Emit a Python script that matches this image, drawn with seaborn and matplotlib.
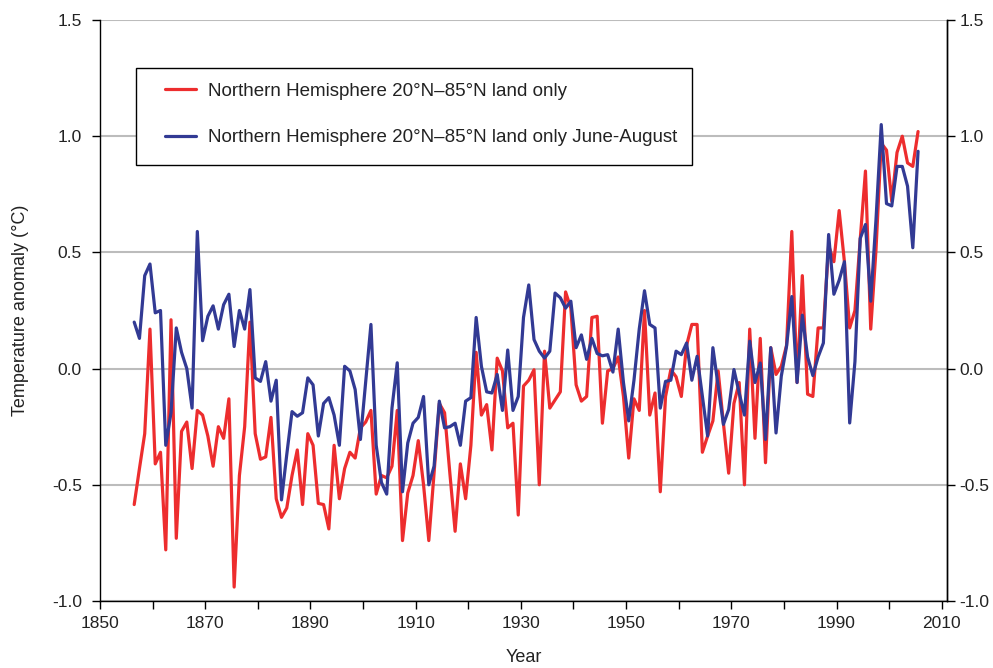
import numpy as np
import pandas as pd
import matplotlib
matplotlib.use("Agg")
import matplotlib.pyplot as plt
import seaborn as sns
from matplotlib.patches import Rectangle

# ---------------- data ----------------
years = list(range(1856, 2006))

nh_land_annual = [
    -0.585, -0.43, -0.28, 0.17, -0.41, -0.36, -0.78, 0.21, -0.73, -0.27,      # 1856-1865
    -0.23, -0.43, -0.18, -0.20, -0.29, -0.42, -0.25, -0.30, -0.13, -0.94,     # 1866-1875
    -0.46, -0.25, 0.20, -0.28, -0.39, -0.38, -0.21, -0.56, -0.64, -0.60,      # 1876-1885
    -0.46, -0.35, -0.585, -0.28, -0.33, -0.58, -0.585, -0.69, -0.33, -0.56,   # 1886-1895
    -0.43, -0.36, -0.385, -0.255, -0.23, -0.18, -0.54, -0.46, -0.47, -0.42,   # 1896-1905
    -0.18, -0.74, -0.535, -0.46, -0.31, -0.50, -0.74, -0.45, -0.15, -0.19,    # 1906-1915
    -0.45, -0.70, -0.41, -0.56, -0.33, 0.07, -0.20, -0.155, -0.35, 0.045,     # 1916-1925
    -0.01, -0.255, -0.235, -0.63, -0.075, -0.05, -0.005, -0.50, 0.075, -0.17, # 1926-1935
    -0.135, -0.10, 0.33, 0.26, -0.07, -0.14, -0.12, 0.22, 0.225, -0.235,      # 1936-1945
    -0.01, 0.00, 0.05, -0.12, -0.385, -0.13, -0.18, 0.25, -0.20, -0.105,      # 1946-1955
    -0.53, -0.12, -0.005, -0.035, -0.12, 0.10, 0.19, 0.19, -0.36, -0.29,      # 1956-1965
    -0.225, -0.01, -0.235, -0.45, -0.15, -0.06, -0.50, 0.17, -0.30, 0.13,     # 1966-1975
    -0.405, 0.09, -0.025, 0.01, 0.10, 0.59, -0.06, 0.40, -0.11, -0.12,        # 1976-1985
    0.175, 0.175, 0.53, 0.46, 0.68, 0.46, 0.175, 0.25, 0.555, 0.85,           # 1986-1995
    0.17, 0.51, 0.97, 0.94, 0.72, 0.93, 1.00, 0.885, 0.87, 1.02,              # 1996-2005
]

nh_land_jja = [
    0.20, 0.13, 0.40, 0.45, 0.24, 0.25, -0.33, -0.19, 0.175, 0.07,            # 1856-1865
    0.00, -0.17, 0.59, 0.12, 0.225, 0.27, 0.17, 0.275, 0.32, 0.095,           # 1866-1875
    0.25, 0.17, 0.34, -0.04, -0.055, 0.03, -0.14, -0.05, -0.565, -0.37,       # 1876-1885
    -0.185, -0.205, -0.19, -0.04, -0.07, -0.29, -0.15, -0.125, -0.20, -0.33,  # 1886-1895
    0.01, -0.01, -0.09, -0.305, -0.06, 0.19, -0.33, -0.49, -0.54, -0.17,      # 1896-1905
    0.025, -0.53, -0.32, -0.235, -0.21, -0.12, -0.50, -0.42, -0.14, -0.255,   # 1906-1915
    -0.25, -0.235, -0.33, -0.14, -0.125, 0.22, 0.01, -0.10, -0.105, -0.025,   # 1916-1925
    -0.18, 0.08, -0.18, -0.12, 0.22, 0.36, 0.125, 0.075, 0.045, 0.075,        # 1926-1935
    0.325, 0.305, 0.26, 0.29, 0.09, 0.145, 0.04, 0.13, 0.065, 0.055,          # 1936-1945
    0.06, -0.015, 0.17, -0.06, -0.225, -0.05, 0.17, 0.335, 0.19, 0.175,       # 1946-1955
    -0.17, -0.055, -0.05, 0.075, 0.06, 0.11, -0.05, 0.053, -0.12, -0.29,      # 1956-1965
    0.09, -0.076, -0.24, -0.176, -0.004, -0.105, -0.20, 0.118, -0.06, 0.024,  # 1966-1975
    -0.305, 0.09, -0.277, -0.033, 0.096, 0.31, -0.06, 0.23, 0.05, -0.03,      # 1976-1985
    0.05, 0.11, 0.577, 0.32, 0.38, 0.46, -0.234, 0.03, 0.56, 0.62,            # 1986-1995
    0.29, 0.64, 1.05, 0.71, 0.70, 0.87, 0.87, 0.785, 0.52, 0.935,             # 1996-2005
]

series_labels = [
    "Northern Hemisphere 20°N–85°N land only",
    "Northern Hemisphere 20°N–85°N land only June-August",
]
series_colors = ["#ED2D2E", "#323A94"]

x_ticks = list(range(1850, 2011, 10))
x_tick_labels = [str(t) if (t - 1850) % 20 == 0 else "" for t in x_ticks]
y_ticks = [-1.0, -0.5, 0.0, 0.5, 1.0, 1.5]
y_tick_labels = ["-1.0", "-0.5", "0.0", "0.5", "1.0", "1.5"]

# ---------------- style ----------------
sns.set_theme(style="white")
plt.rcParams["font.family"] = ["Liberation Sans", "DejaVu Sans"]
plt.rcParams["axes.unicode_minus"] = False

df = pd.DataFrame({
    "year": years + years,
    "anomaly": nh_land_annual + nh_land_jja,
    "series": [series_labels[0]] * len(years) + [series_labels[1]] * len(years),
})
# each year is a category slot; points sit in the middle of their slot
df["pos"] = df["year"] + 0.5

fig = plt.figure(figsize=(9.93, 6.68), dpi=100)
W, H = 993, 668
ax = fig.add_axes([100 / W, 1 - 601 / H, 847 / W, 581 / H])

sns.lineplot(data=df, x="pos", y="anomaly", hue="series", hue_order=series_labels,
             palette=series_colors, linewidth=2.3, estimator=None, legend=False, ax=ax)

ax.set_xlim(1850, 2011)
ax.set_ylim(-1.0, 1.5)
ax.set_xticks(x_ticks)
ax.set_xticklabels(x_tick_labels)
ax.set_yticks(y_ticks)
ax.set_yticklabels(y_tick_labels)

ax.yaxis.grid(True, color="#bcbcbc", linewidth=1.5)
ax.xaxis.grid(False)
ax.set_axisbelow(True)

for side in ["left", "right", "bottom"]:
    ax.spines[side].set_visible(True)
    ax.spines[side].set_color("black")
    ax.spines[side].set_linewidth(1.0)
ax.spines["top"].set_visible(False)

ax.tick_params(axis="both", which="both", direction="out", length=6, width=1,
               color="black", labelsize=12.5, labelcolor="#222222")
ax.tick_params(axis="y", left=True, labelleft=True, right=False, labelright=False, pad=7)
ax.tick_params(axis="x", bottom=True, pad=5)

# right-hand value axis (same scale) with its own, tighter padding
ax2 = ax.twinx()
ax2.set_ylim(ax.get_ylim())
ax2.set_yticks(y_ticks)
ax2.set_yticklabels(y_tick_labels)
ax2.grid(False)
for side in ["left", "top", "bottom"]:
    ax2.spines[side].set_visible(False)
ax2.spines["right"].set_visible(True)
ax2.spines["right"].set_color("black")
ax2.spines["right"].set_linewidth(1.0)
ax2.tick_params(axis="y", right=True, labelright=True, direction="out", length=6, width=1,
                color="black", labelsize=12.5, labelcolor="#222222", pad=3)

ax.set_xlabel("Year", fontsize=13, color="#222222")
ax.set_ylabel("Temperature anomaly (°C)", fontsize=13, color="#222222")
ax.xaxis.set_label_coords(0.5, -0.082)
ax.yaxis.set_label_coords(-0.084, 0.5)

# legend box
box = Rectangle((36 / 847, (601 - 165) / 581), 556 / 847, 97 / 581,
                transform=ax.transAxes, facecolor="white", edgecolor="black",
                linewidth=1.0, zorder=3)
ax.add_patch(box)
handles = ax.get_lines()[:2]
leg = ax.legend(handles, series_labels, loc="center left",
                bbox_to_anchor=((165 - 100) / 847, (601 - 114.5) / 581),
                frameon=False, fontsize=13.5, borderpad=0, borderaxespad=0,
                handlelength=1.65, handletextpad=0.62, labelspacing=1.55)
leg.set_zorder(5)
for t in leg.get_texts():
    t.set_color("#222222")

fig.savefig("out.png", dpi=100)
